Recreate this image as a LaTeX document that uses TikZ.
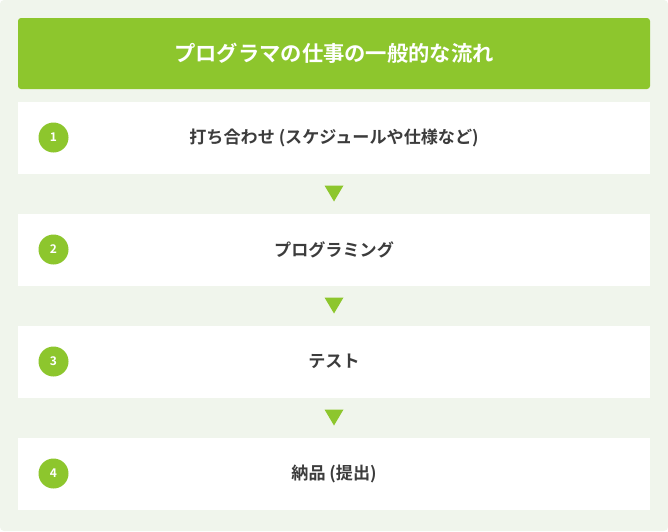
\documentclass[tikz,border=0pt]{standalone}
\usepackage{fontspec}
\newfontfamily\jpfont{Noto Sans CJK JP}[BoldFont={Noto Sans CJK JP Bold}]
\usetikzlibrary{positioning,calc}
\definecolor{flowgreen}{RGB}{141,198,45}
\definecolor{pagebg}{RGB}{240,245,236}
\definecolor{textgray}{RGB}{60,60,60}
\tikzset{
  headbar/.style={fill=flowgreen,rounded corners=3pt,minimum width=632pt,minimum height=71pt,inner sep=0pt,text=white,font=\jpfont\bfseries\fontsize{21.3}{24}\selectfont},
  stepbox/.style={fill=white,minimum width=632pt,minimum height=72pt,inner sep=0pt,text=textgray,font=\jpfont\bfseries\fontsize{17.1}{20}\selectfont},
  numdot/.style={circle,fill=flowgreen,minimum size=30pt,inner sep=0pt,text=white,font=\jpfont\bfseries\fontsize{12}{14}\selectfont},
}
\begin{document}
\begin{tikzpicture}[x=1pt,y=-1pt,line join=round]
	\fill[pagebg,rounded corners=4pt] (0,0) rectangle (668,531);
	\useasboundingbox (0,0) rectangle (668,531);
	
	\node[headbar] (title) at (334,53.5) {プログラマの仕事の一般的な流れ};
	\node[stepbox] (step1) at (334,137.5) {打ち合わせ (スケジュールや仕様など)};
	\node[stepbox] (step2) at (334,249.5) {プログラミング};
	\node[stepbox] (step3) at (334,361.5) {テスト};
	\node[stepbox] (step4) at (334,473.5) {納品 (提出)};
	
	\node[numdot] (num1) at (53.5,137.5) {1};
	\node[numdot] (num2) at (53.5,249.5) {2};
	\node[numdot] (num3) at (53.5,361.5) {3};
	\node[numdot] (num4) at (53.5,473.5) {4};
	
	% down markers between the steps
	\foreach \a/\b in {step1/step2,step2/step3,step3/step4}
		\fill[flowgreen] ($(\a.south)!.5!(\b.north)$) ++(-9.5,-8) -- ++(19,0) -- ++(-9.5,16) -- cycle;
\end{tikzpicture}
\end{document}
